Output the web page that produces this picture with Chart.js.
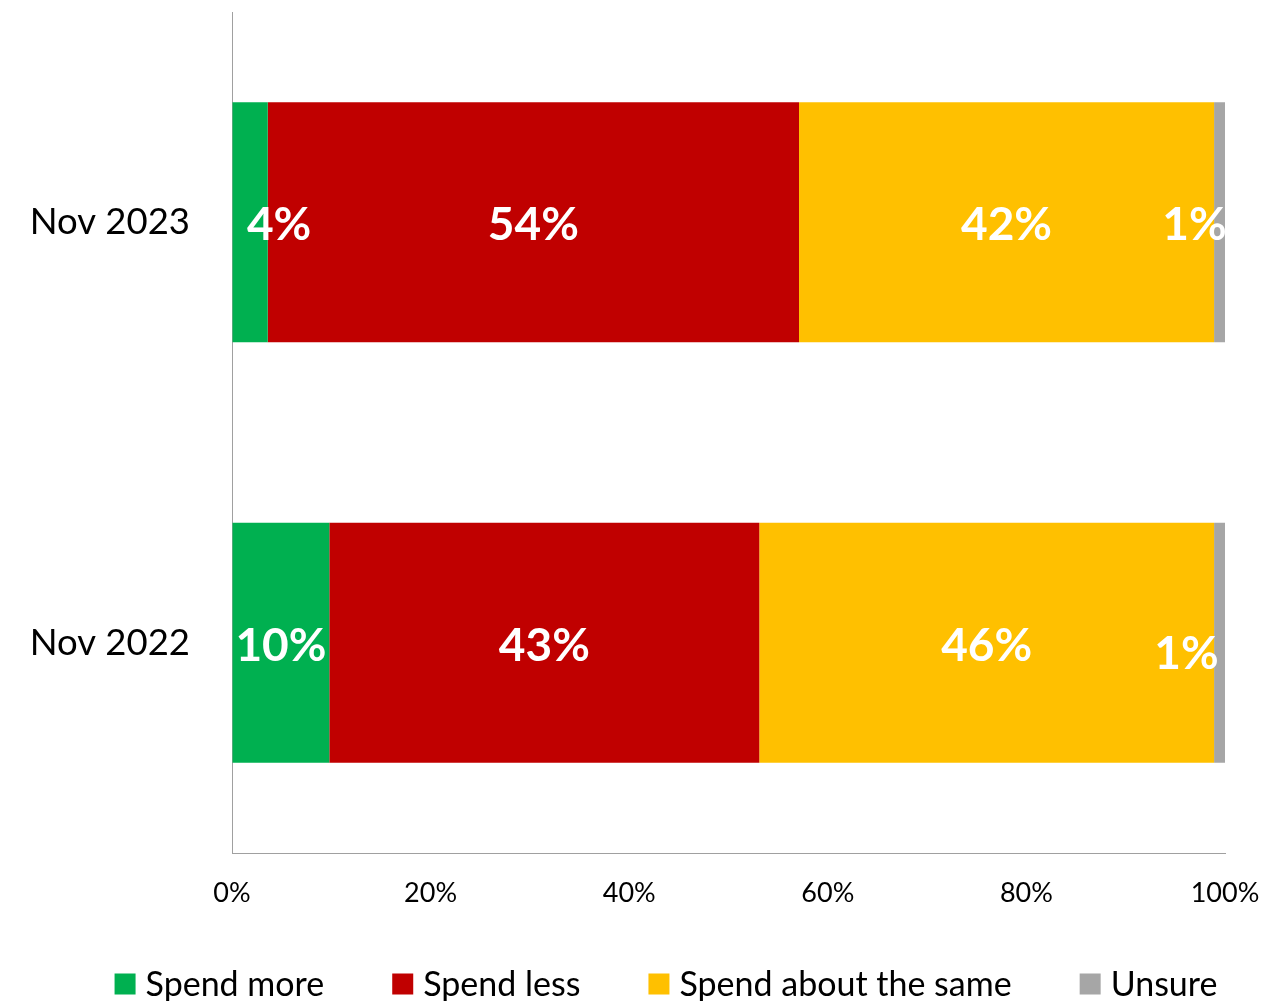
<!DOCTYPE html>
<html>
<head>
<meta charset="utf-8">
<script src="https://cdn.jsdelivr.net/npm/chart.js@4/dist/chart.umd.min.js"></script>
<style>
  html, body { margin: 0; padding: 0; background: #ffffff; }
  #wrap { width: 1264px; height: 1001px; position: relative; }
</style>
</head>
<body>
<div id="wrap"><canvas id="chart" width="1264" height="1001"></canvas></div>
<script>
// Survey periods (top to bottom)
const periods = ['Nov 2023', 'Nov 2022'];

// Share of respondents per answer, in percent
const spendMore = [3.6, 9.8];
const spendLess = [53.5, 43.3];
const spendSame = [41.8, 45.8];
const unsure = [1.1, 1.1];

// Axis ticks
const tickValues = [0, 20, 40, 60, 80, 100];

const seriesNames = ['Spend more', 'Spend less', 'Spend about the same', 'Unsure'];
const seriesColors = ['#00B050', '#C00000', '#FFC000', '#A6A6A6'];
const seriesValues = [spendMore, spendLess, spendSame, unsure];

// Nudges for labels that would not fit inside their segment: "dataset-bar" -> [dx, dy]
const labelNudge = {
  '0-0': [29, 0],
  '3-0': [-25, 0],
  '3-1': [-33, 8]
};

// White percentage labels on the bar segments
const valueLabels = {
  id: 'valueLabels',
  afterDatasetsDraw(chart) {
    const ctx = chart.ctx;
    const area = chart.chartArea;
    ctx.save();
    ctx.beginPath();
    ctx.rect(area.left, area.top, area.right - area.left, area.bottom - area.top);
    ctx.clip();
    ctx.font = 'bold 46px Lato';
    ctx.fillStyle = '#ffffff';
    ctx.textAlign = 'center';
    ctx.textBaseline = 'middle';
    chart.data.datasets.forEach((ds, di) => {
      const meta = chart.getDatasetMeta(di);
      meta.data.forEach((bar, i) => {
        const nudge = labelNudge[di + '-' + i] || [0, 0];
        const cx = (bar.x + bar.base) / 2 + nudge[0];
        const cy = bar.y + 3 + nudge[1];
        ctx.fillText(Math.round(ds.data[i]) + '%', cx, cy);
      });
    });
    ctx.restore();
  }
};

// Single-row legend under the axis, centred at a fixed x
const bottomLegend = {
  id: 'bottomLegend',
  afterDraw(chart, args, opts) {
    const ctx = chart.ctx;
    const box = opts.boxSize, gap = opts.textGap, itemGap = opts.itemGap;
    ctx.save();
    ctx.font = opts.font;
    ctx.textAlign = 'left';
    ctx.textBaseline = 'middle';
    const items = chart.data.datasets.map(ds => ({
      text: ds.label, color: ds.backgroundColor, w: ctx.measureText(ds.label).width
    }));
    const total = items.reduce((s, it) => s + box + gap + it.w, 0) + itemGap * (items.length - 1);
    let x = opts.centerX - total / 2;
    items.forEach(it => {
      ctx.fillStyle = it.color;
      ctx.fillRect(x, opts.centerY - box / 2, box, box);
      ctx.fillStyle = '#000000';
      ctx.fillText(it.text, x + box + gap, opts.centerY + 1);
      x += box + gap + it.w + itemGap;
    });
    ctx.restore();
  }
};

new Chart(document.getElementById('chart'), {
  type: 'bar',
  data: {
    labels: periods,
    datasets: seriesNames.map((name, k) => ({
      label: name,
      data: seriesValues[k],
      backgroundColor: seriesColors[k],
      borderWidth: 0,
      categoryPercentage: 1,
      barPercentage: 0.571
    }))
  },
  options: {
    indexAxis: 'y',
    responsive: false,
    animation: false,
    devicePixelRatio: 1,
    layout: { padding: { left: 0, right: 39, top: 12, bottom: 0 } },
    scales: {
      x: {
        stacked: true,
        min: 0,
        max: 100,
        afterBuildTicks(scale) {
          scale.ticks = tickValues.map(v => ({ value: v }));
        },
        afterFit(scale) {
          scale.height = 148;
          scale.paddingLeft = 0;
          scale.paddingRight = 0;
        },
        grid: { drawOnChartArea: false, drawTicks: false },
        border: { display: true, color: '#A0A0A0', width: 1 },
        ticks: {
          padding: 24,
          color: '#000000',
          font: { family: 'Lato', size: 27 },
          maxRotation: 0,
          autoSkip: false,
          callback: v => v + '%'
        }
      },
      y: {
        stacked: true,
        afterFit(scale) {
          scale.width = 232;
          scale.paddingTop = 0;
          scale.paddingBottom = 0;
        },
        grid: { drawOnChartArea: false, drawTicks: false },
        border: { display: true, color: '#A0A0A0', width: 1 },
        ticks: {
          padding: 42,
          color: '#000000',
          font: { family: 'Lato', size: 36.5 }
        }
      }
    },
    plugins: {
      legend: { display: false },
      tooltip: { enabled: false },
      bottomLegend: {
        font: '34px Lato',
        boxSize: 21,
        textGap: 10,
        itemGap: 68,
        centerX: 666,
        centerY: 984
      }
    }
  },
  plugins: [valueLabels, bottomLegend]
});
</script>
</body>
</html>
